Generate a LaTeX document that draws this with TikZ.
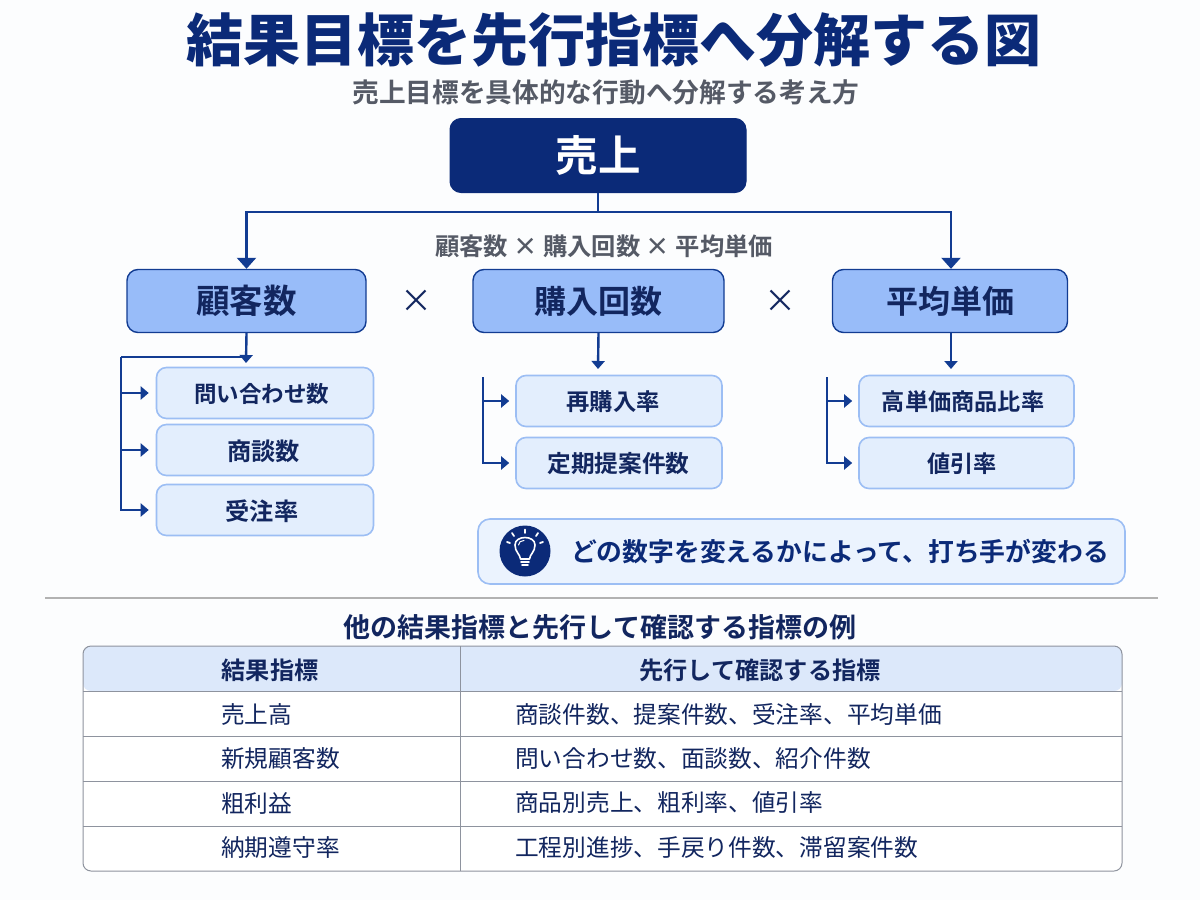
\documentclass[tikz,border=0pt]{standalone}
\usepackage{fontspec}
\setmainfont{Noto Sans CJK JP}[BoldFont={Noto Sans CJK JP Bold}]
\newfontfamily\heavy{Noto Sans CJK JP Black}
\usetikzlibrary{arrows.meta}
\definecolor{navy}{HTML}{0B2A78}
\definecolor{ink}{HTML}{12265F}
\definecolor{line}{HTML}{123C92}
\definecolor{midfill}{HTML}{98BCF9}
\definecolor{lightfill}{HTML}{E3EEFD}
\definecolor{lightedge}{HTML}{9CBEF4}
\definecolor{headfill}{HTML}{DCE8FA}
\definecolor{graytxt}{HTML}{555A66}
\definecolor{tabline}{HTML}{8E939E}
\definecolor{bgcol}{HTML}{FCFDFE}
\newcommand{\fs}[1]{\fontsize{#1}{#1}\selectfont}
\tikzset{x=1pt,y=-1pt,
 topbox/.style={draw=navy,fill=navy,rounded corners=11pt,line width=1pt,text=white,font=\fs{42.5}\bfseries,inner sep=0pt},
 midbox/.style={draw=line,fill=midfill,rounded corners=11pt,line width=1.4pt,text=ink,font=\fs{32}\bfseries,inner sep=0pt,minimum height=63pt},
 subbox/.style={draw=lightedge,fill=lightfill,rounded corners=10pt,line width=1.6pt,inner sep=0pt,minimum height=51pt},
 subtxt/.style={text=ink,font=\fs{#1}\bfseries,inner sep=0pt},
 conn/.style={draw=line,line width=2.4pt},
 arr/.style={conn,-{Triangle[length=11pt,width=19pt]}},
 sarr/.style={conn,-{Triangle[length=8pt,width=13pt]}},
 opx/.style={text=ink,font=\fs{32},inner sep=0pt},
 cell/.style={text=ink,font=\fs{23.7},inner sep=0pt,anchor=west},
 headtxt/.style={text=ink,font=\fs{24.2}\bfseries,inner sep=0pt},
 tabrule/.style={draw=tabline,line width=1pt},
}
\begin{document}
\begin{tikzpicture}
\useasboundingbox (0,0) rectangle (1200,900);
\fill[bgcol] (0,0) rectangle (1200,900);
% title
\node[inner sep=0pt,text=navy,font=\fs{57}\heavy] (title) at (614,40) {結果目標を先行指標へ分解する図};
\node[inner sep=0pt,text=graytxt,font=\fs{26.7}\bfseries] (subtitle) at (606,92) {売上目標を具体的な行動へ分解する考え方};
% top
\node[topbox,minimum width=296pt,minimum height=74pt] (top) at (598,155.5) {売上};
\node[inner sep=0pt,text=graytxt,font=\fs{24.3}\bfseries] (formula) at (604,246) {顧客数 × 購入回数 × 平均単価};
% mid
\node[midbox,minimum width=239pt,font=\fs{33.5}\bfseries] (a) at (246.5,301) {顧客数};
\node[midbox,minimum width=251pt] (b) at (598.5,301) {購入回数};
\node[midbox,minimum width=235pt] (c) at (950,301) {平均単価};
\node[opx] (x1) at (416,301) {×};
\node[opx] (x2) at (780,301) {×};
% sub
\node[subbox,minimum width=217pt] (a1) at (265,393) {};
\node[subbox,minimum width=217pt] (a2) at (265,450) {};
\node[subbox,minimum width=217pt] (a3) at (265,510) {};
\node[subbox,minimum width=206pt] (b1) at (619,401) {};
\node[subbox,minimum width=206pt] (b2) at (619,463) {};
\node[subbox,minimum width=215pt] (c1) at (966.5,401) {};
\node[subbox,minimum width=215pt] (c2) at (966.5,463) {};
\node[subtxt=22.5] (a1t) at (261.5,394) {問い合わせ数};
\node[subtxt=24.2] (a2t) at (263.5,451) {商談数};
\node[subtxt=24.2] (a3t) at (262,511) {受注率};
\node[subtxt=23.3] (b1t) at (613,402) {再購入率};
\node[subtxt=23.7] (b2t) at (618.5,464) {定期提案件数};
\node[subtxt=23.2] (c1t) at (963,402) {高単価商品比率};
\node[subtxt=23.2] (c2t) at (962,464) {値引率};
% connectors top
\coordinate (busT) at (598,212);
\draw[conn] (top.south) -- (busT);
\draw[arr] (busT) -| (a.north);
\draw[arr] (busT) -| ([xshift=1pt]c.north);
% customer tree
\coordinate (aend) at (246,363);
\coordinate (abus) at (246,357);
\coordinate (aL) at (121,357);
\draw[sarr] (a.south) -- (aend);
\draw[conn] (abus) -- (aL);
\draw[sarr,shorten >=7pt] (aL) |- (a3.west);
\draw[sarr,shorten >=7pt] (aL |- a1.west) -- (a1.west);
\draw[sarr,shorten >=7pt] (aL |- a2.west) -- (a2.west);
% purchase tree
\coordinate (btop) at (483,377);
\coordinate (cent) at (598,369);
\draw[sarr] (b.south) -- (cent);
\draw[sarr,shorten >=6pt] (btop) |- (b2.west);
\draw[sarr,shorten >=6pt] (btop |- b1.west) -- (b1.west);
% price tree
\coordinate (ctop) at (827,377);
\coordinate (cenc) at (951,369);
\draw[sarr] ([xshift=1pt]c.south) -- (cenc);
\draw[sarr,shorten >=6pt] (ctop) |- (c2.west);
\draw[sarr,shorten >=6pt] (ctop |- c1.west) -- (c1.west);
% banner
\node[draw=lightedge,fill=lightfill!70!white,rounded corners=12pt,line width=1.6pt,minimum width=647pt,minimum height=65pt,inner sep=0pt] (banner) at (801.5,551.5) {};
\node[circle,fill=navy,minimum size=51pt,inner sep=0pt] (icon) at (525,551) {};
\begin{scope}[shift={(525,551)},draw=white,line cap=round,line join=round]
 \draw[line width=1.6pt] (-4.5,8) .. controls (-5,3) and (-10,1) .. (-10,-6) .. controls (-10,-11) and (-5,-13.5) .. (0,-13.5) .. controls (5,-13.5) and (10,-11) .. (10,-6) .. controls (10,1) and (5,3) .. (4.5,8) -- cycle;
 \draw[line width=1pt] (-6.5,-6) .. controls (-6.5,-9) and (-4,-10.5) .. (-1,-10.5);
 \draw[line width=1.6pt] (-4,11) -- (4,11);
 \draw[line width=1.6pt] (-3,14) -- (3,14);
 \draw[line width=1.8pt] (0,-18) -- (0,-21.5) (-11,-15) -- (-13,-18) (11,-15) -- (13,-18) (-15,-8) -- (-18,-9) (15,-8) -- (18,-9);
\end{scope}
\node[inner sep=0pt,text=navy,font=\fs{25.8}\bfseries] (bantext) at (840,552) {どの数字を変えるかによって、打ち手が変わる};
% divider
\coordinate (divL) at (45,598);
\coordinate (divR) at (1158,598);
\draw[draw=black!30,line width=1.6pt] (divL) -- (divR);
\node[inner sep=0pt,text=ink,font=\fs{27}\bfseries] (tabtitle) at (600,627) {他の結果指標と先行して確認する指標の例};
% table
\fill[white] (83,646) [rounded corners=8pt] rectangle (1122,871);
\fill[headfill,rounded corners=8pt] (83,691) -- (83,646) -- (1122,646) -- (1122,691) -- cycle;
\draw[tabrule] (83,691) -- (1122,691) (83,736) -- (1122,736) (83,781) -- (1122,781) (83,826) -- (1122,826);
\draw[tabrule] (460,646) -- (460,871);
\draw[tabrule,rounded corners=8pt] (83,646) rectangle (1122,871);
\node[headtxt] (h1) at (270,670.5) {結果指標};
\node[headtxt] (h2) at (760,670.5) {先行して確認する指標};
\node[cell] (r1) at (221,714) {売上高};
\node[cell] (r2) at (221,759) {新規顧客数};
\node[cell] (r3) at (221,803) {粗利益};
\node[cell] (r4) at (221,848) {納期遵守率};
\node[cell] (s1) at (515,714) {商談件数、提案件数、受注率、平均単価};
\node[cell] (s2) at (515,759) {問い合わせ数、面談数、紹介件数};
\node[cell] (s3) at (515,803) {商品別売上、粗利率、値引率};
\node[cell] (s4) at (515,848) {工程別進捗、手戻り件数、滞留案件数};
\end{tikzpicture}
\end{document}
